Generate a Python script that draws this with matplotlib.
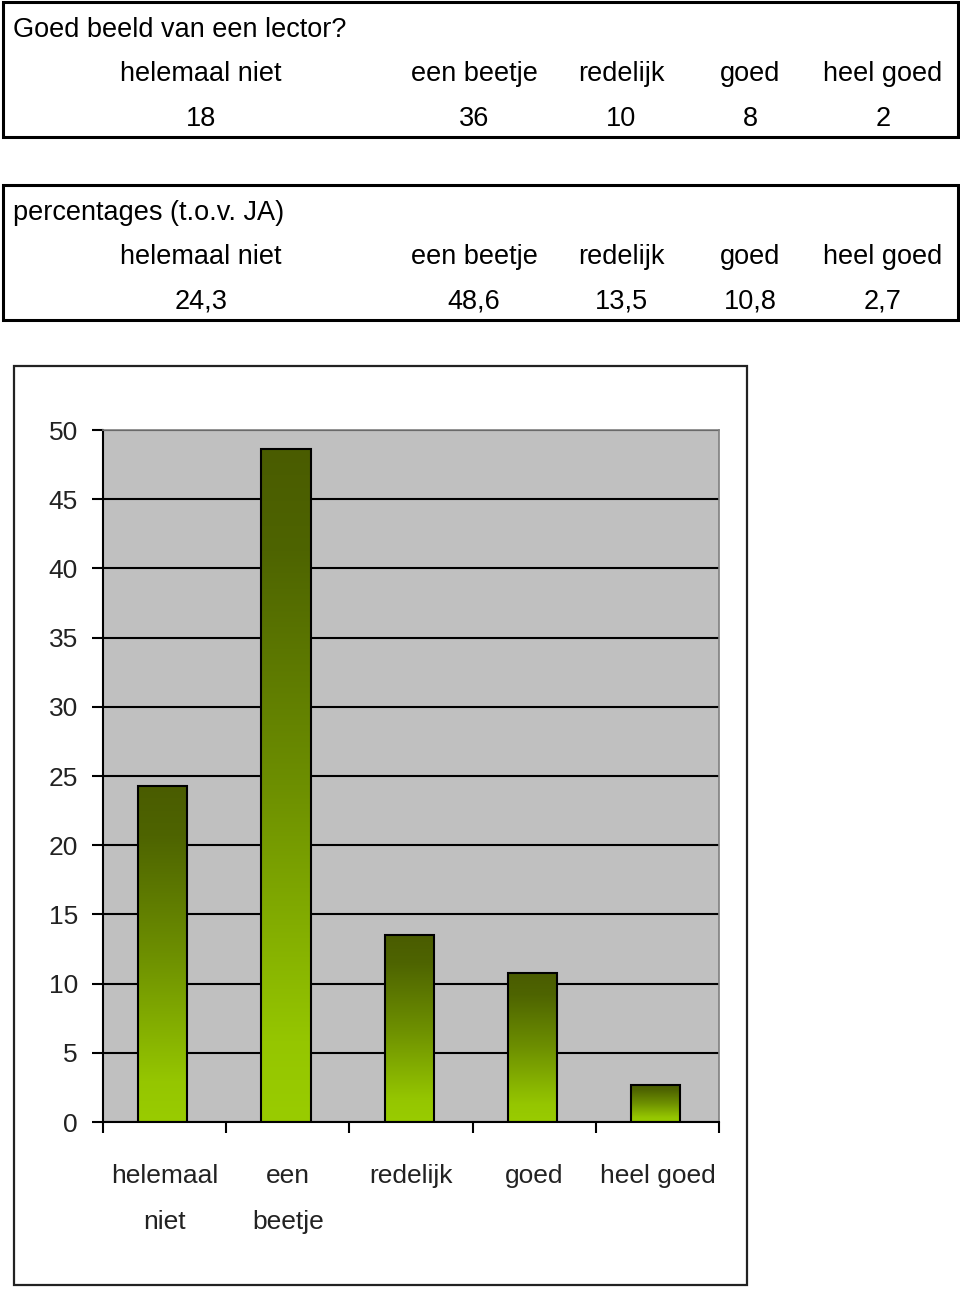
import numpy as np
import matplotlib
matplotlib.use('Agg')
import matplotlib.pyplot as plt
from matplotlib.patches import Rectangle
from matplotlib.colors import LinearSegmentedColormap

# data
categories = ['helemaal niet', 'een beetje', 'redelijk', 'goed', 'heel goed']
axis_labels = ['helemaal\nniet', 'een\nbeetje', 'redelijk', 'goed', 'heel goed']
counts = [18, 36, 10, 8, 2]
percentages = [24.3, 48.6, 13.5, 10.8, 2.7]
yticks = [0, 5, 10, 15, 20, 25, 30, 35, 40, 45, 50]

FONT = ['Liberation Sans', 'DejaVu Sans']
W, H = 960, 1289

fig = plt.figure(figsize=(W / 100, H / 100), dpi=100)
fig.patch.set_facecolor('white')

# overlay in pixel coords for the tables and frame
ov = fig.add_axes([0, 0, 1, 1])
ov.set_xlim(0, W)
ov.set_ylim(H, 0)
ov.axis('off')

col_x = [201, 474, 621, 750, 883]


def table(top, bottom, title, values):
    ov.add_patch(Rectangle((3, top), 955, bottom - top, fill=False,
                           edgecolor='black', linewidth=2.2))
    ov.text(13, top + 28, title, fontsize=19.5, family=FONT, va='center', ha='left')
    for x, c, v in zip(col_x, categories, values):
        ov.text(x, top + 72, c, fontsize=19.5, family=FONT, va='center', ha='center')
        ov.text(x, top + 117, v, fontsize=19.5, family=FONT, va='center', ha='center')


table(2, 137, 'Goed beeld van een lector?', [str(c) for c in counts])
table(185, 320, 'percentages (t.o.v. JA)',
      [('%.1f' % p).replace('.', ',') for p in percentages])

# chart frame
ov.add_patch(Rectangle((14, 366), 733, 919, fill=False,
                       edgecolor='#222222', linewidth=1.6))

# bar chart
left, right, top, bottom = 103, 719, 430, 1122
ax = fig.add_axes([left / W, 1 - bottom / H, (right - left) / W, (bottom - top) / H])
ax.set_facecolor('#c0c0c0')
ax.set_yticks(yticks)
ax.yaxis.grid(True, color='black', linewidth=1.5)
ax.set_axisbelow(True)
for s in ['top', 'right']:
    ax.spines[s].set_color('#808080')
    ax.spines[s].set_linewidth(1.2)
for s in ['left', 'bottom']:
    ax.spines[s].set_color('black')
    ax.spines[s].set_linewidth(1.5)

x = np.arange(len(categories)) + 0.5
bars = ax.bar(x - 0.015, percentages, width=0.4, facecolor='none',
              edgecolor='black', linewidth=1.5, zorder=3)

cmap = LinearSegmentedColormap.from_list(
    'grn', [(0.0, '#99cc00'), (0.12, '#95c600'), (0.5, '#6d8f00'),
            (0.85, '#4e6400'), (1.0, '#4a5c00')])
grad = np.linspace(0, 1, 256).reshape(-1, 1)
for b in bars:
    x0, w, h = b.get_x(), b.get_width(), b.get_height()
    im = ax.imshow(grad, extent=[x0, x0 + w, 0, h], origin='lower', aspect='auto',
                   cmap=cmap, zorder=2)
    im.set_clip_path(b)

ax.set_xlim(0, len(categories))
ax.set_ylim(0, 50)

ax.tick_params(axis='y', length=8, width=1.5, pad=10, labelsize=19)
for t in ax.get_yticklabels():
    t.set_family(FONT)
    t.set_color('#222222')

ax.set_xticks(x)
ax.set_xticklabels(axis_labels, fontsize=19, family=FONT, linespacing=2.2,
                   color='#222222')
ax.tick_params(axis='x', which='major', length=0, pad=30)
ax.set_xticks(np.arange(len(categories) + 1), minor=True)
ax.tick_params(axis='x', which='minor', length=8, width=1.5, direction='out')

fig.savefig('out.png', dpi=100)
